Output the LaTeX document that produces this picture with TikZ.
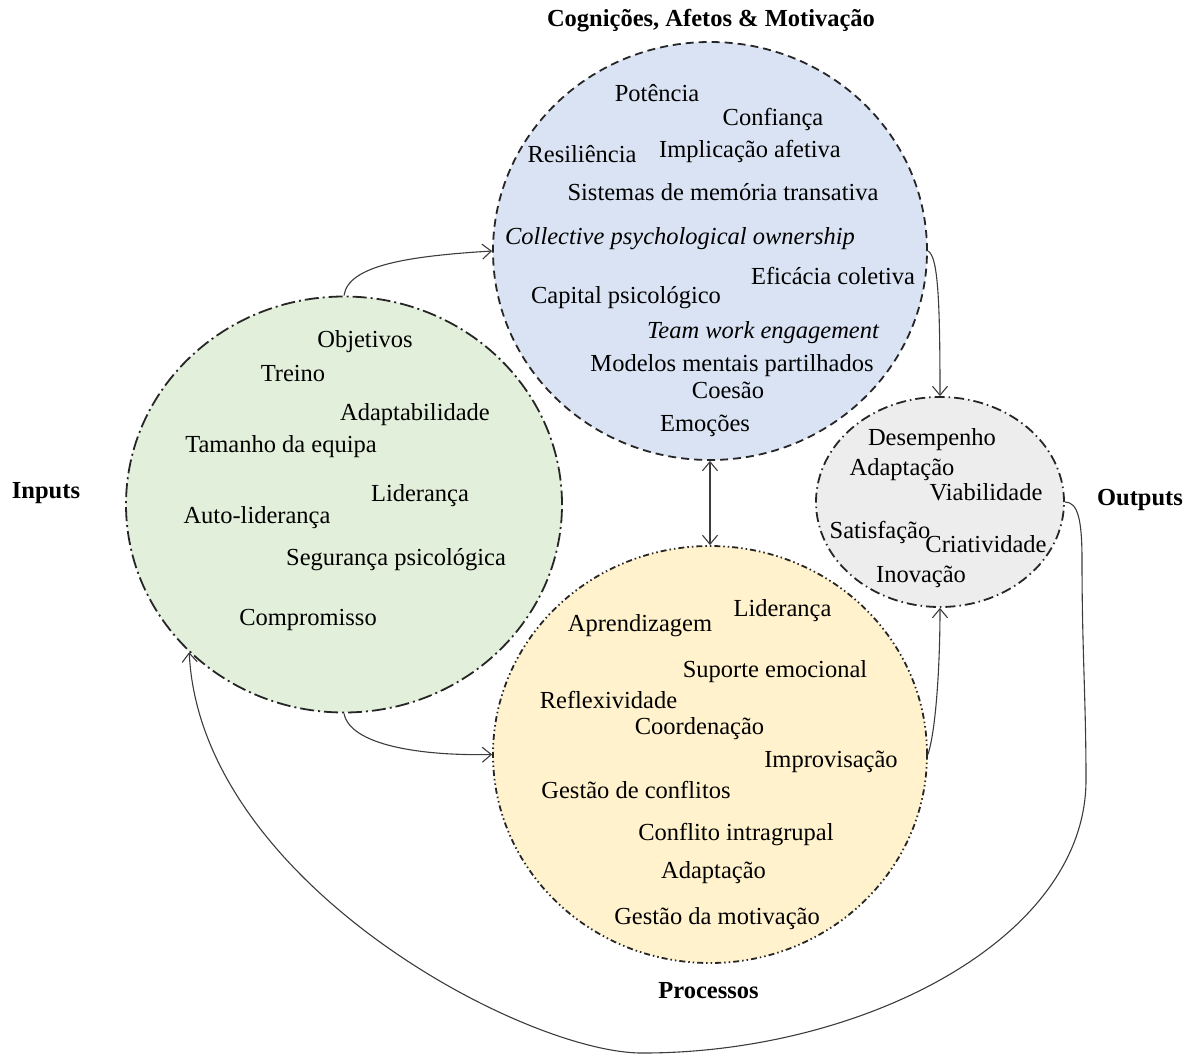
\documentclass[tikz,border=0pt]{standalone}
\usepackage{fontspec}
\setmainfont{Liberation Serif}
\usetikzlibrary{shapes.geometric,arrows.meta}
\definecolor{cblue}{RGB}{218,227,243}
\definecolor{cgreen}{RGB}{226,239,218}
\definecolor{cyellow}{RGB}{255,242,204}
\definecolor{cgray}{RGB}{237,237,237}
\definecolor{cline}{RGB}{60,60,60}
\begin{document}
\begin{tikzpicture}[x=1bp,y=-1bp,
  circ/.style={ellipse, inner sep=0pt, line width=1.8bp, draw=black!85},
  lbl/.style={anchor=base, inner sep=0pt, font=\fontsize{24.5bp}{29bp}\selectfont},
  ttl/.style={anchor=base, inner sep=0pt, font=\fontsize{24.5bp}{29bp}\selectfont\bfseries},
  conn/.style={draw=cline, line width=1.1bp},
  arr/.style={-{Straight Barb[length=9bp,width=15bp]}},
  darr/.style={{Straight Barb[length=9bp,width=15bp]}-{Straight Barb[length=9bp,width=15bp]}}
]
\useasboundingbox (0,0) rectangle (1189,1057);

% circles
\node[circ, fill=cblue, minimum width=434bp, minimum height=418bp,
      dash pattern=on 8bp off 5bp] (b) at (710,251) {};
\node[circ, fill=cgreen, minimum width=436bp, minimum height=416bp,
      dash pattern=on 14bp off 4bp on 2bp off 4bp] (g) at (344,504.5) {};
\node[circ, fill=cyellow, minimum width=434bp, minimum height=417bp,
      dash pattern=on 6bp off 3bp on 1.5bp off 3bp on 1.5bp off 3bp] (y) at (710,754.5) {};
\node[circ, fill=cgray, minimum width=248bp, minimum height=210bp,
      dash pattern=on 10bp off 4bp on 1.5bp off 4bp] (o) at (940,502) {};

% titles
\node[ttl] (tc) at (711,26) {Cognições, Afetos \& Motivação};
\node[ttl] (ti) at (46,498) {Inputs};
\node[ttl] (to) at (1140,505) {Outputs};
\node[ttl] (tp) at (708.5,998) {Processos};

% blue texts
\node[lbl] (b1) at (657,101) {Potência};
\node[lbl] (b2) at (773,125) {Confiança};
\node[lbl] (b3) at (582,162) {Resiliência};
\node[lbl] (b4) at (750,157) {Implicação afetiva};
\node[lbl] (b5) at (723,200) {Sistemas de memória transativa};
\node[lbl] (b6) at (680,244) {\itshape Collective psychological ownership};
\node[lbl] (b7) at (833,284) {Eficácia coletiva};
\node[lbl] (b8) at (626,303) {Capital psicológico};
\node[lbl] (b9) at (763,338) {\itshape Team work engagement};
\node[lbl] (b10) at (732,371) {Modelos mentais partilhados};
\node[lbl] (b11) at (728,398) {Coesão};
\node[lbl] (b12) at (705,431) {Emoções};

% green texts
\node[lbl] (g1) at (365,347) {Objetivos};
\node[lbl] (g2) at (293,381) {Treino};
\node[lbl] (g3) at (415,420) {Adaptabilidade};
\node[lbl] (g4) at (281,452) {Tamanho da equipa};
\node[lbl] (g5) at (420,501) {Liderança};
\node[lbl] (g6) at (257,523) {Auto-liderança};
\node[lbl] (g7) at (396,565) {Segurança psicológica};
\node[lbl] (g8) at (308,625) {Compromisso};

% gray texts
\node[lbl] (o1) at (932,445) {Desempenho};
\node[lbl] (o2) at (902,475) {Adaptação};
\node[lbl] (o3) at (986,500) {Viabilidade};
\node[lbl] (o4) at (880,538) {Satisfação};
\node[lbl] (o5) at (986,552) {Criatividade};
\node[lbl] (o6) at (921,582) {Inovação};

% yellow texts
\node[lbl] (y1) at (782.5,616) {Liderança};
\node[lbl] (y2) at (640,631) {Aprendizagem};
\node[lbl] (y3) at (775,677) {Suporte emocional};
\node[lbl] (y4) at (608.5,708) {Reflexividade};
\node[lbl] (y5) at (699.5,734) {Coordenação};
\node[lbl] (y6) at (831,767) {Improvisação};
\node[lbl] (y7) at (636,798) {Gestão de conflitos};
\node[lbl] (y8) at (736,840) {Conflito intragrupal};
\node[lbl] (y9) at (713.5,878) {Adaptação};
\node[lbl] (y10) at (717,924) {Gestão da motivação};

% connectors
\draw[conn,arr] (g.north) .. controls (348,265) and (410,256) .. (b.west);
\draw[conn,arr] (g.south) .. controls (350,745) and (420,756) .. (y.west);
\draw[conn,darr] (b.south) -- (y.north);
\draw[conn,arr] (b.east) .. controls (938,256) and (940,300) .. (o.north);
\draw[conn,arr] (y.east) .. controls (936,730) and (940,665) .. (o.south);
\draw[conn,arr] (o.east) .. controls (1078,502) and (1082,520) .. (1082,560)
   .. controls (1082,650) and (1086,700) .. (1086,780)
   .. controls (1086,940) and (860,1054) .. (640,1053)
   .. controls (520,1051) and (200,880) .. (g.south west);
\end{tikzpicture}
\end{document}
